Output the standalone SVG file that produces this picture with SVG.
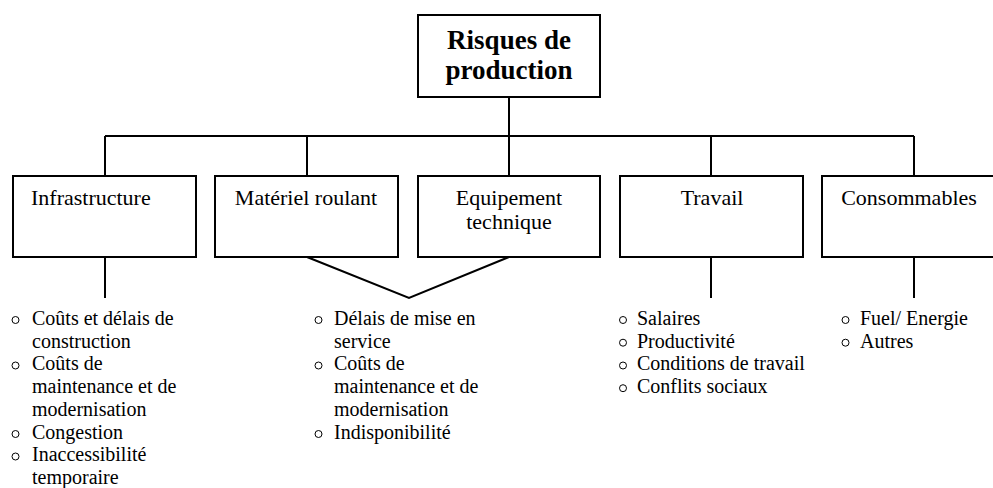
<svg xmlns="http://www.w3.org/2000/svg" width="993" height="488" viewBox="0 0 993 488">
<style>
.box{fill:#fff;stroke:#000;stroke-width:2}
.ln{fill:none;stroke:#000;stroke-width:2}
.t{font-family:"Liberation Serif","Times New Roman",serif;font-size:22px;fill:#000}
.h{font-family:"Liberation Serif","Times New Roman",serif;font-size:27px;font-weight:bold;fill:#000}
.b{font-family:"Liberation Serif","Times New Roman",serif;font-size:20px;fill:#000}
.dot{fill:none;stroke:#000;stroke-width:1}
</style>
<rect width="993" height="488" fill="#fff"/>
<g id="connectors">
<path class="ln" d="M509 97V136M105 136H914M105 136V176M307 136V176M509 136V176M711 136V176M914 136V176"/>
<path class="ln" d="M105 257V298M711 257V298M914 257V298M307 257L409 298L509 257"/>
</g>
<g id="root">
<rect class="box" x="418" y="15" width="182" height="82"/>
<text class="h" x="509" y="49" text-anchor="middle">Risques de</text>
<text class="h" x="509" y="79" text-anchor="middle">production</text>
</g>
<g id="infrastructure">
<rect class="box" x="13" y="176" width="183" height="81"/>
<text class="t" x="31" y="205">Infrastructure</text>
</g>
<g id="materiel">
<rect class="box" x="215" y="176" width="183" height="81"/>
<text class="t" x="306" y="205" text-anchor="middle">Matériel roulant</text>
</g>
<g id="equipement">
<rect class="box" x="418" y="176" width="182" height="81"/>
<text class="t" x="509" y="205" text-anchor="middle">Equipement</text>
<text class="t" x="509" y="229" text-anchor="middle">technique</text>
</g>
<g id="travail">
<rect class="box" x="620" y="176" width="183" height="81"/>
<text class="t" x="712" y="205" text-anchor="middle">Travail</text>
</g>
<g id="consommables">
<rect class="box" x="822" y="176" width="183" height="81"/>
<text class="t" x="909" y="205" text-anchor="middle">Consommables</text>
</g>
<g id="list-infrastructure">
<circle class="dot" cx="15.5" cy="320" r="3.5"/>
<circle class="dot" cx="15.5" cy="365.5" r="3.5"/>
<circle class="dot" cx="15.5" cy="434" r="3.5"/>
<circle class="dot" cx="15.5" cy="456.5" r="3.5"/>
<text class="b" x="32" y="325">Coûts et délais de</text>
<text class="b" x="32" y="347.7">construction</text>
<text class="b" x="32" y="370.4">Coûts de</text>
<text class="b" x="32" y="393.1">maintenance et de</text>
<text class="b" x="32" y="415.8">modernisation</text>
<text class="b" x="32" y="438.5">Congestion</text>
<text class="b" x="32" y="461.2">Inaccessibilité</text>
<text class="b" x="32" y="483.9">temporaire</text>
</g>
<g id="list-materiel">
<circle class="dot" cx="318.5" cy="320" r="3.5"/>
<circle class="dot" cx="318.5" cy="365.5" r="3.5"/>
<circle class="dot" cx="318.5" cy="434" r="3.5"/>
<text class="b" x="334" y="325">Délais de mise en</text>
<text class="b" x="334" y="347.7">service</text>
<text class="b" x="334" y="370.4">Coûts de</text>
<text class="b" x="334" y="393.1">maintenance et de</text>
<text class="b" x="334" y="415.8">modernisation</text>
<text class="b" x="334" y="438.5">Indisponibilité</text>
</g>
<g id="list-travail">
<circle class="dot" cx="623" cy="320" r="3.5"/>
<circle class="dot" cx="623" cy="342.7" r="3.5"/>
<circle class="dot" cx="623" cy="365.5" r="3.5"/>
<circle class="dot" cx="623" cy="388.2" r="3.5"/>
<text class="b" x="637" y="325">Salaires</text>
<text class="b" x="637" y="347.7">Productivité</text>
<text class="b" x="637" y="370.4">Conditions de travail</text>
<text class="b" x="637" y="393.1">Conflits sociaux</text>
</g>
<g id="list-consommables">
<circle class="dot" cx="845.5" cy="320" r="3.5"/>
<circle class="dot" cx="845.5" cy="342.7" r="3.5"/>
<text class="b" x="860" y="325">Fuel/ Energie</text>
<text class="b" x="860" y="347.7">Autres</text>
</g>
</svg>
